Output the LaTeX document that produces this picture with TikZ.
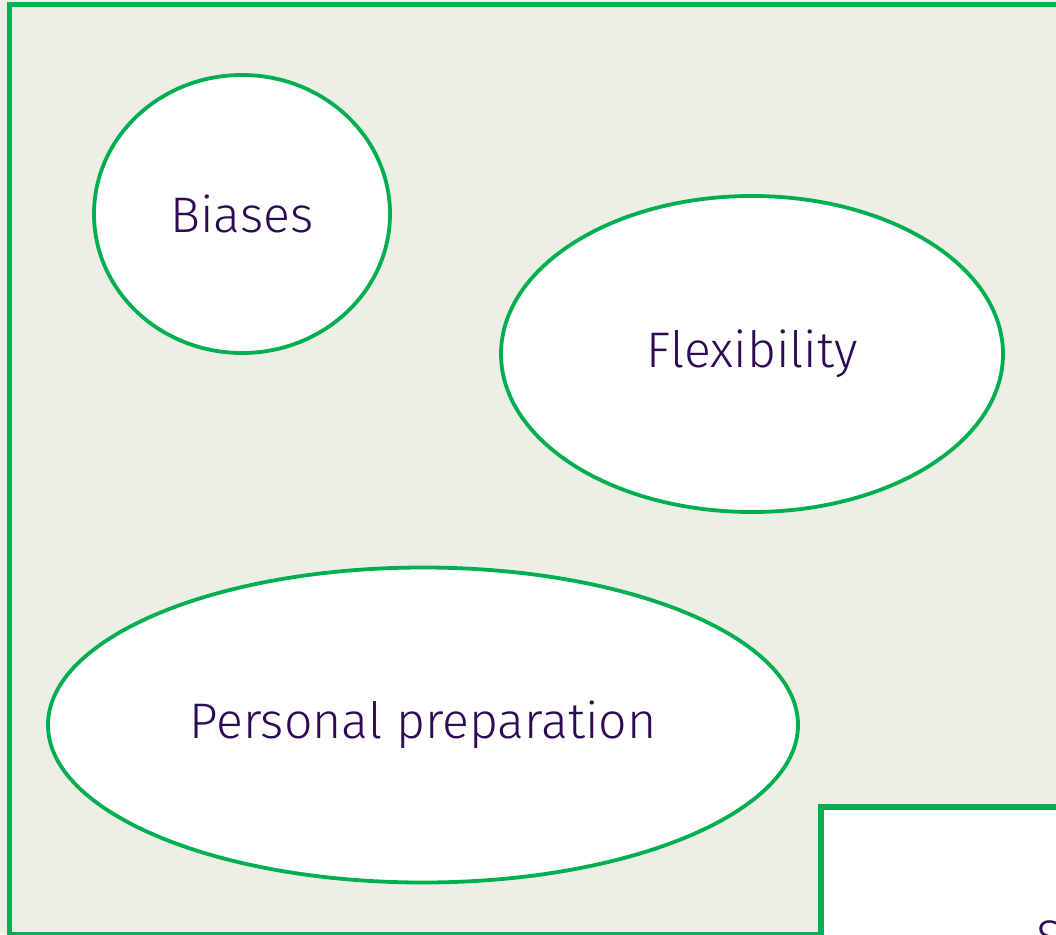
\documentclass[tikz,border=0pt]{standalone}
\usepackage{fontspec}
\setmainfont{Fira Sans}[UprightFont=* Light]
\usetikzlibrary{shapes.geometric}
\definecolor{bggray}{HTML}{EDEEE6}
\definecolor{lgreen}{HTML}{00B050}
\definecolor{txtpurple}{HTML}{2E0A55}
\tikzset{
  bubble/.style={ellipse, draw=lgreen, line width=3.8pt, fill=white, inner sep=0pt,
    text=txtpurple, font=\fontsize{50}{56}\selectfont},
  frame/.style={draw=lgreen, line width=5.5pt},
}
\begin{document}
\begin{tikzpicture}[x=1pt,y=-1pt]
\useasboundingbox (0,0) rectangle (1056,934);
\clip (0,0) rectangle (1056,934);
\fill[bggray] (0,0) rectangle (1056,934);
\draw[frame, fill=bggray] (9.5,4.7) rectangle (1200,935);
\node[bubble, minimum width=296pt, minimum height=278pt] (biases) at (242,214) {Biases};
\node[bubble, minimum width=502pt, minimum height=316pt] (flex) at (752,354) {Flexibility};
\node[bubble, minimum width=750pt, minimum height=315pt] (prep) at (423,725) {Personal preparation};
\draw[frame, fill=white] (821,807) rectangle (1200,1100);
\node[anchor=north west, inner sep=0pt, text=txtpurple, font=\fontsize{50}{56}\selectfont] (s) at (1036,920) {S};
\end{tikzpicture}
\end{document}
